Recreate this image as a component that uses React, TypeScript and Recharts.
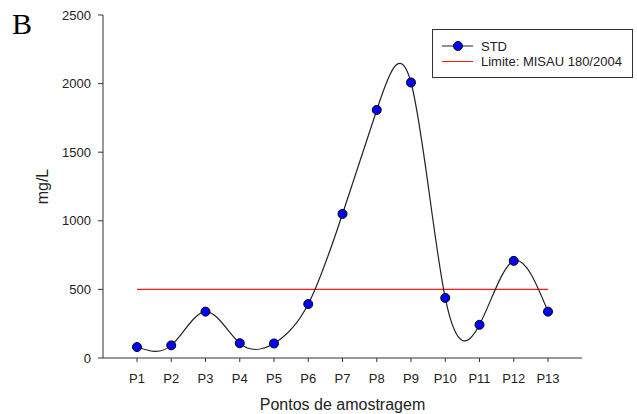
import React from 'react';
import { LineChart, Line, XAxis, YAxis, Legend } from 'recharts';

const categories = ['P1', 'P2', 'P3', 'P4', 'P5', 'P6', 'P7', 'P8', 'P9', 'P10', 'P11', 'P12', 'P13'];
const stdValues = [80, 92, 338, 108, 106, 393, 1050, 1808, 2008, 438, 242, 708, 338];
const limitValues = [500, 500, 500, 500, 500, 500, 500, 500, 500, 500, 500, 500, 500];
const yTicks = [0, 500, 1000, 1500, 2000, 2500];
const seriesNames = { std: 'STD', limit: 'Limite: MISAU 180/2004' };

const data = categories.map((c, i) => ({ name: c, std: stdValues[i], limit: limitValues[i] }));

const FONT = '"Liberation Sans", Arial, sans-serif';
const RED = '#ff1a1a';

const LegendBox = () => (
  <div
    style={{
      width: 201,
      height: 49,
      boxSizing: 'border-box',
      border: '1px solid #333',
      background: '#fff',
      fontFamily: FONT,
    }}
  >
    <svg width={199} height={47}>
      <line x1={9} y1={16} x2={40} y2={16} stroke="#222" strokeWidth={1} />
      <circle cx={25} cy={16} r={4.5} fill="#0000ff" stroke="#000" strokeWidth={1} />
      <text x={48} y={21} fontSize={13} fill="#222">{seriesNames.std}</text>
      <line x1={9} y1={31.5} x2={40} y2={31.5} stroke={RED} strokeWidth={1} />
      <text x={48} y={36} fontSize={13} fill="#222">{seriesNames.limit}</text>
    </svg>
  </div>
);

export default function App() {
  return (
    <div style={{ position: 'absolute', left: 0, top: 0, width: 637, height: 414, background: '#fff' }}>
      <div
        style={{
          position: 'absolute',
          left: 12,
          top: 4,
          fontFamily: '"Liberation Serif", "Times New Roman", serif',
          fontSize: 30,
          lineHeight: '40px',
          color: '#000',
        }}
      >
        B
      </div>
      <LineChart
        width={637}
        height={414}
        data={data}
        margin={{ top: 15, right: 55, left: 0, bottom: 0 }}
        style={{ fontFamily: FONT }}
      >
        <XAxis
          dataKey="name"
          type="category"
          padding={{ left: 34, right: 34 }}
          height={56}
          tickSize={4}
          tickMargin={12}
          axisLine={{ stroke: '#333' }}
          tickLine={{ stroke: '#333' }}
          tick={{ fontSize: 13, fill: '#222', fontFamily: FONT }}
          interval={0}
          label={({ viewBox }: any) => (
            <text
              x={viewBox.x + viewBox.width / 2}
              y={viewBox.y + viewBox.height - 4}
              textAnchor="middle"
              fontSize={16}
              fill="#222"
              fontFamily={FONT}
            >
              Pontos de amostragem
            </text>
          )}
        />
        <XAxis
          xAxisId="top"
          dataKey="name"
          orientation="top"
          height={0}
          tick={false}
          tickLine={false}
          axisLine={{ stroke: '#888' }}
        />
        <YAxis
          domain={[0, 2500]}
          ticks={yTicks}
          width={103}
          tickSize={5}
          tickMargin={7}
          axisLine={{ stroke: '#333' }}
          tickLine={{ stroke: '#333' }}
          tick={{ fontSize: 13, fill: '#222', fontFamily: FONT }}
          label={({ viewBox }: any) => {
            const cx = 48;
            const cy = viewBox.y + viewBox.height / 2;
            return (
              <text
                x={cx}
                y={cy}
                transform={`rotate(-90, ${cx}, ${cy})`}
                textAnchor="middle"
                fontSize={16}
                fill="#222"
                fontFamily={FONT}
              >
                mg/L
              </text>
            );
          }}
        />
        <YAxis
          yAxisId="right"
          orientation="right"
          width={0}
          domain={[0, 2500]}
          tick={false}
          tickLine={false}
          axisLine={{ stroke: '#888' }}
        />
        <Legend
          layout="vertical"
          verticalAlign="middle"
          align="center"
          content={() => <LegendBox />}
          wrapperStyle={{ position: 'absolute', left: 432, top: 29, width: 201, height: 49 }}
        />
        <Line
          dataKey="limit"
          name={seriesNames.limit}
          type="linear"
          stroke={RED}
          strokeWidth={1.3}
          dot={false}
          activeDot={false}
          isAnimationActive={false}
        />
        <Line
          dataKey="std"
          name={seriesNames.std}
          type="natural"
          stroke="#222"
          strokeWidth={1.2}
          dot={{ r: 4.5, fill: '#0000ff', stroke: '#000', strokeWidth: 1 }}
          activeDot={false}
          isAnimationActive={false}
        />
      </LineChart>
    </div>
  );
}
